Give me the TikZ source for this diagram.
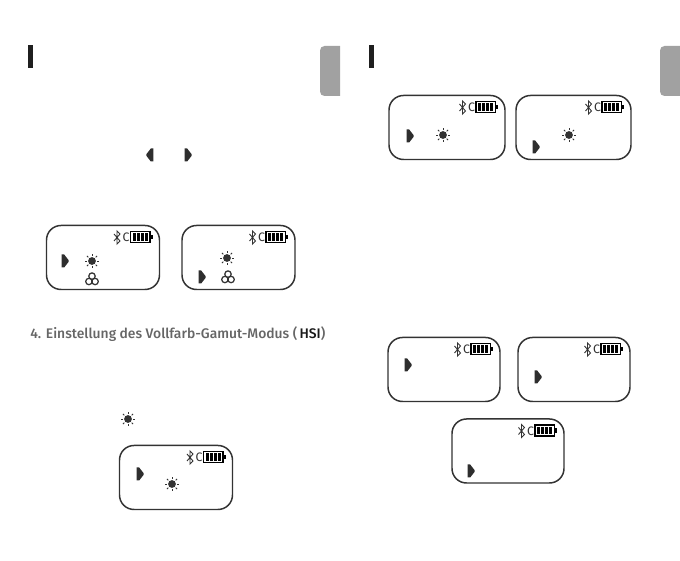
\documentclass[tikz,border=0pt]{standalone}
\usepackage{fontspec}
\setmainfont{Fira Sans}
\newfontfamily\headfont{Fira Sans Medium}
\definecolor{ink}{gray}{0.2}
\definecolor{tabgray}{gray}{0.63}
\tikzset{
    lcd/.style={draw=ink, line width=0.85pt, rounded corners=2.9mm, minimum width=#1*0.2mm, minimum height=1.28cm, inner sep=0pt, outer sep=0pt, fill=white},
    lcd/.default=113,
    bar/.style={fill=black!88, draw=none},
    tab/.style={fill=tabgray, draw=none},
    sun/.pic={
        \fill[ink] (0,0) circle (3.9);
        \foreach \a in {0,45,...,315} \draw[ink, line width=0.5pt] (\a:5.2) -- (\a:7.2);
    },
    trio/.pic={
        \draw[ink, line width=0.7pt] (0,-2.9) circle (3.2) (-3.1,2.5) circle (3.2) (3.1,2.5) circle (3.2);
    },
    mark/.pic={
        \fill[ink!90!black] (-3.4,-6.5) -- (-0.8,-6.5) -- (3.6,-0.8) -- (3.6,0.8) -- (-0.8,6.5) -- (-3.4,6.5) -- cycle;
    },
    status/.pic={
        % bluetooth, charge letter, battery
        \draw[ink, line width=0.5pt] (-45.5,-3.5+12) -- (-39.5,3.5+12) -- (-42.5,6.5+12) -- (-42.5,-6.5+12) -- (-39.5,-3.5+12) -- (-45.5,3.5+12);
        \node[text=ink, font=\fontsize{7}{8}\selectfont, inner sep=0pt] at (-33.5,12) {C};
        \draw[black, line width=0.6pt] (-29,6) rectangle (-9.5,17);
        \fill[black] (-9,9.5) rectangle (-7,14);
        \foreach \x in {-27,-23,-19,-15} \fill[black] (\x,7.8) rectangle ++(3,7.4);
    },
}
\begin{document}
\begin{tikzpicture}[x=0.2mm, y=-0.2mm]
    \useasboundingbox (0,0) rectangle (680,561);

    % --- LEFT PAGE ---
    \fill[bar] (28,45) rectangle (33,68);
    \fill[tab] (340,46) {[rounded corners=0.9mm] -- (320,46) -- (320,96)} -- (340,96) -- cycle;
    \pic at (150,155) [xscale=-1] {mark};
    \pic at (188,155) {mark};

    \node[lcd] (lcdA) at (103,257.5) {};
    \pic at (lcdA.north east) {status};
    \pic at (65,261) {mark};
    \pic at (92,261) {sun};
    \pic at (92,279) {trio};

    \node[lcd] (lcdB) at (238.5,257.5) {};
    \pic at (lcdB.north east) {status};
    \pic at (202,277) {mark};
    \pic at (227,258) {sun};
    \pic at (228,277) {trio};

    \node[anchor=west, inner sep=0pt, font=\fontsize{7.9}{10}\headfont, text=black!60] (heading) at (30,334)
        {4. Einstellung des Vollfarb-Gamut-Modus (\,\textcolor{black!90}{HSI})};

    \pic at (128,419) {sun};
    \node[lcd] (lcdC) at (176,477.5) {};
    \pic at (lcdC.north east) {status};
    \pic at (140,474) {mark};
    \pic at (172,484) {sun};

    % --- RIGHT PAGE ---
    \fill[bar] (369,45) rectangle (374,68);
    \fill[tab] (680,46) {[rounded corners=0.9mm] -- (660,46) -- (660,96)} -- (680,96) -- cycle;

    \node[lcd=116] (lcdD) at (447,127.5) {};
    \pic at (lcdD.north east) {status};
    \pic at (410,136) {mark};
    \pic at (443,135) {sun};

    \node[lcd=115] (lcdE) at (573.5,127.5) {};
    \pic at (lcdE.north east) {status};
    \pic at (536,147) {mark};
    \pic at (569,135) {sun};

    \node[lcd=112] (lcdF) at (444,369.5) {};
    \pic at (lcdF.north east) {status};
    \pic at (408,365) {mark};

    \node[lcd=112] (lcdG) at (574,369.5) {};
    \pic at (lcdG.north east) {status};
    \pic at (538,377) {mark};

    \node[lcd=112] (lcdH) at (508,451) {};
    \pic at (lcdH.north east) {status};
    \pic at (471,471) {mark};
\end{tikzpicture}
\end{document}
